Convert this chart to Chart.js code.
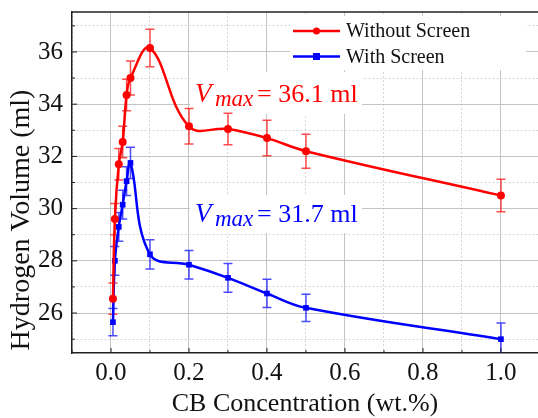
<!DOCTYPE html>
<html lang="en">
<head>
    <meta charset="UTF-8">
    <title>Hydrogen Volume vs CB Concentration</title>
    <script src="https://cdn.jsdelivr.net/npm/chart.js"></script>
    <style>
        body {
            margin: 0;
            background: white;
        }
        canvas {
            display: block;
        }
    </style>
</head>
<body>
    <canvas id="volChart" width="538" height="418"></canvas>

    <script>
        // CB concentration (wt.%) and measured volumes (ml)
        const concentrations = [0.005, 0.01, 0.02, 0.03, 0.04, 0.05, 0.1, 0.2, 0.3, 0.4, 0.5, 1.0];
        const withoutScreen = [26.55, 29.6, 31.7, 32.55, 34.35, 35.0, 36.15, 33.15, 33.05, 32.7, 32.2, 30.5];
        const withoutScreenErr = [0.6, 0.6, 0.6, 0.6, 0.6, 0.65, 0.72, 0.68, 0.6, 0.68, 0.65, 0.62];
        const withScreen = [25.65, 28.0, 29.3, 30.15, 31.05, 31.75, 28.25, 27.85, 27.35, 26.75, 26.2, 25.0];
        const withScreenErr = [0.52, 0.55, 0.55, 0.55, 0.55, 0.6, 0.56, 0.55, 0.55, 0.54, 0.52, 0.62];
        const xTickLabels = [0, 0.2, 0.4, 0.6, 0.8, 1.0];
        const yTickLabels = [26, 28, 30, 32, 34, 36];

        const serif = "'Liberation Serif', 'Times New Roman', serif";
        const RED = '#ff0000';
        const BLUE = '#0000ff';

        const toPoints = (ys) => ys.map((y, i) => ({ x: concentrations[i], y: y }));

        const isMajorX = (v) => Math.abs(Math.round(v * 10)) % 2 === 0;
        const isMajorY = (v) => Math.round(v) % 2 === 0;

        // error bars, white label boxes, custom legend, annotations
        const extras = {
            id: 'extras',
            beforeDatasetsDraw(chart) {
                const { ctx, chartArea: a, scales: { x, y } } = chart;
                ctx.save();
                // white boxes behind legend and Vmax labels
                ctx.fillStyle = 'white';
                ctx.fillRect(290, 16, 236, 54);
                ctx.fillRect(190, 72, 172, 42);
                ctx.fillRect(190, 195, 172, 38);

                // error bars
                const bars = [[withoutScreen, withoutScreenErr, 'rgba(255,0,0,0.7)'],
                              [withScreen, withScreenErr, 'rgba(0,0,255,0.7)']];
                bars.forEach(([vals, errs, col]) => {
                    ctx.strokeStyle = col;
                    ctx.lineWidth = 1.5;
                    vals.forEach((v, i) => {
                        const px = x.getPixelForValue(concentrations[i]);
                        const top = y.getPixelForValue(v + errs[i]);
                        const bot = Math.min(y.getPixelForValue(v - errs[i]), a.bottom);
                        ctx.beginPath();
                        ctx.moveTo(px, top); ctx.lineTo(px, bot);
                        ctx.moveTo(px - 4.5, top); ctx.lineTo(px + 4.5, top);
                        if (bot < a.bottom) { ctx.moveTo(px - 4.5, bot); ctx.lineTo(px + 4.5, bot); }
                        ctx.stroke();
                    });
                });
                ctx.restore();
            },
            afterDraw(chart) {
                const { ctx, chartArea: a, scales: { x, y } } = chart;
                ctx.save();
                // frame top + inward ticks
                ctx.strokeStyle = '#222';
                ctx.lineWidth = 1.5;
                ctx.beginPath();
                ctx.moveTo(a.left, a.top); ctx.lineTo(a.right, a.top);
                ctx.stroke();
                ctx.lineWidth = 1;
                ctx.beginPath();
                x.ticks.forEach(t => {
                    const px = x.getPixelForValue(t.value);
                    const len = isMajorX(t.value) ? 5 : 3;
                    ctx.moveTo(px, a.bottom); ctx.lineTo(px, a.bottom - len);
                });
                y.ticks.forEach(t => {
                    const py = y.getPixelForValue(t.value);
                    const len = isMajorY(t.value) ? 5 : 3;
                    ctx.moveTo(a.left, py); ctx.lineTo(a.left + len, py);
                });
                ctx.stroke();

                // x tick labels
                ctx.fillStyle = '#111';
                ctx.font = '25px ' + serif;
                ctx.textAlign = 'center';
                ctx.textBaseline = 'alphabetic';
                xTickLabels.forEach(v => {
                    ctx.fillText(v.toFixed(1), x.getPixelForValue(v), a.bottom + 27);
                });

                // y axis title
                ctx.textBaseline = 'middle';
                ctx.font = '28px ' + serif;
                ctx.translate(22, 220);
                ctx.rotate(-Math.PI / 2);
                ctx.fillText('Hydrogen Volume (ml)', 0, 0);
                ctx.setTransform(1, 0, 0, 1, 0, 0);

                // legend
                const items = [['Without Screen', RED, 'circle', 31], ['With Screen', BLUE, 'rect', 56.5]];
                items.forEach(([label, col, style, ly]) => {
                    ctx.strokeStyle = col;
                    ctx.fillStyle = col;
                    ctx.lineWidth = 2.5;
                    ctx.beginPath();
                    ctx.moveTo(293, ly); ctx.lineTo(340, ly);
                    ctx.stroke();
                    if (style === 'circle') {
                        ctx.beginPath(); ctx.arc(316.5, ly, 3.5, 0, Math.PI * 2); ctx.fill();
                    } else {
                        ctx.fillRect(313, ly - 3.5, 7, 7);
                    }
                    ctx.fillStyle = '#111';
                    ctx.font = '20px ' + serif;
                    ctx.textAlign = 'left';
                    ctx.textBaseline = 'middle';
                    ctx.fillText(label, 346, ly + 1);
                });

                // Vmax annotations
                const notes = [['= 36.1 ml', RED, 102], ['= 31.7 ml', BLUE, 222]];
                notes.forEach(([txt, col, base]) => {
                    ctx.fillStyle = col;
                    ctx.textBaseline = 'alphabetic';
                    ctx.textAlign = 'left';
                    ctx.font = 'italic 27px ' + serif;
                    ctx.fillText('V', 195, base);
                    ctx.font = 'italic 23px ' + serif;
                    ctx.fillText('max', 215, base + 4);
                    ctx.font = '26px ' + serif;
                    ctx.fillText(txt, 257, base);
                });
                ctx.restore();
            }
        };

        const ctx = document.getElementById('volChart').getContext('2d');
        new Chart(ctx, {
            type: 'line',
            data: {
                datasets: [{
                    label: 'Without Screen',
                    data: toPoints(withoutScreen),
                    borderColor: RED,
                    backgroundColor: RED,
                    borderWidth: 2.5,
                    pointStyle: 'circle',
                    pointRadius: 4,
                    pointBorderWidth: 0,
                    tension: 0.4
                }, {
                    label: 'With Screen',
                    data: toPoints(withScreen),
                    borderColor: BLUE,
                    backgroundColor: BLUE,
                    borderWidth: 2.5,
                    pointStyle: 'rect',
                    pointRadius: 4,
                    pointBorderWidth: 0,
                    tension: 0.4
                }]
            },
            options: {
                responsive: false,
                animation: false,
                layout: { autoPadding: false, padding: { top: 12, right: 0, left: 0, bottom: 0 } },
                plugins: {
                    legend: { display: false },
                    tooltip: { enabled: false }
                },
                scales: {
                    x: {
                        type: 'linear',
                        min: -0.1,
                        max: 1.095,
                        afterFit: (s) => {
                            s.height = 65;
                            s.paddingLeft = 0;
                            s.paddingRight = 0;
                        },
                        ticks: {
                            stepSize: 0.1,
                            includeBounds: false,
                            autoSkip: false,
                            maxRotation: 0,
                            display: false
                        },
                        grid: {
                            drawTicks: false,
                            color: (c) => (c.tick && isMajorX(c.tick.value)) ? '#c4c4c4' : '#d6d6d6'
                        },
                        border: {
                            color: '#222',
                            width: 1.5,
                            dash: (c) => (c.tick && !isMajorX(c.tick.value)) ? [2, 2] : []
                        },
                        title: {
                            display: true,
                            text: 'CB Concentration (wt.%)',
                            color: '#111',
                            font: { family: serif, size: 26 },
                            padding: { top: 0, bottom: -2 }
                        }
                    },
                    y: {
                        min: 24.47,
                        max: 37.53,
                        afterFit: (s) => {
                            s.width = 72;
                            s.paddingTop = 0;
                            s.paddingBottom = 0;
                        },
                        ticks: {
                            stepSize: 1,
                            includeBounds: false,
                            autoSkip: false,
                            padding: 9,
                            color: '#111',
                            font: { family: serif, size: 25 },
                            callback: (v) => yTickLabels.includes(v) ? String(v) : ''
                        },
                        grid: {
                            drawTicks: false,
                            color: (c) => (c.tick && isMajorY(c.tick.value)) ? '#c4c4c4' : '#d6d6d6'
                        },
                        border: {
                            color: '#222',
                            width: 1.5,
                            dash: (c) => (c.tick && !isMajorY(c.tick.value)) ? [2, 2] : []
                        }
                    }
                }
            },
            plugins: [extras]
        });
    </script>
</body>
</html>
